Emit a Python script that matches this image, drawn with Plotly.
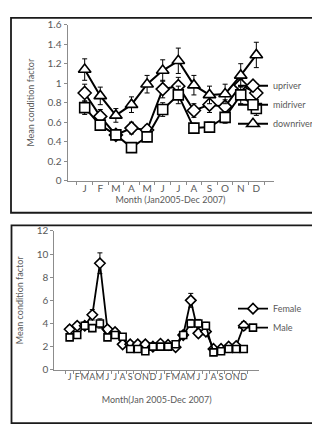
import plotly.graph_objects as go

# ---------- Top chart data ----------
months_top = ["Jan", "Feb", "Mar", "Apr", "May", "Jun", "Jul", "Aug", "Sep", "Oct", "Nov", "Dec"]
month_labels_top = ["J", "F", "M", "A", "M", "J", "J", "A", "S", "O", "N", "D"]

upriver = [0.90, 0.66, 0.47, 0.54, 0.52, 0.94, 0.97, 0.72, 0.78, 0.76, 0.98, 0.90]
upriver_err = [0.09, 0.07, 0.04, 0.06, 0.05, 0.09, 0.09, 0.07, 0.08, 0.07, 0.06, 0.09]
midriver = [0.75, 0.57, 0.47, 0.34, 0.45, 0.73, 0.88, 0.54, 0.55, 0.65, 0.88, 0.74]
midriver_err = [0.07, 0.05, 0.04, 0.03, 0.05, 0.07, 0.09, 0.05, 0.05, 0.06, 0.09, 0.07]
downriver = [1.14, 0.87, 0.67, 0.78, 0.99, 1.13, 1.23, 0.98, 0.88, 0.89, 1.08, 1.29]
downriver_err = [0.11, 0.09, 0.07, 0.08, 0.09, 0.11, 0.13, 0.10, 0.09, 0.10, 0.12, 0.13]

top_yticks = [0, 0.2, 0.4, 0.6, 0.8, 1.0, 1.2, 1.4, 1.6]
top_yticklabels = ["0", "0.2", "0.4", "0.6", "0.8", "1", "1.2", "1.4", "1.6"]

# ---------- Bottom chart data ----------
months_bottom = [m + " a" for m in months_top] + [m + " b" for m in months_top]
month_labels_bottom = month_labels_top + month_labels_top

female = [3.5, 3.8, 3.8, 4.75, 9.2, 3.5, 3.25, 2.2, 2.2, 2.2, 2.2, 2.0,
          2.25, 2.15, 1.95, 3.0, 6.0, 3.15, 3.3, 1.8, 1.8, 2.0, 2.05, 3.8]
female_err = [0.3, 0.3, 0.3, 0.45, 0.9, 0.3, 0.3, 0.2, 0.2, 0.2, 0.2, 0.2,
              0.2, 0.2, 0.2, 0.3, 0.6, 0.3, 0.3, 0.2, 0.2, 0.2, 0.2, 0.35]
male = [2.8, 3.0, 3.8, 3.6, 4.0, 2.8, 3.0, 2.85, 1.8, 1.8, 1.6, 2.0,
        2.0, 2.0, 2.2, 3.0, 4.0, 4.0, 3.8, 1.5, 1.6, 1.8, 1.8, 1.8]
male_err = [0.25, 0.25, 0.3, 0.3, 0.4, 0.25, 0.25, 0.25, 0.2, 0.2, 0.2, 0.2,
            0.2, 0.2, 0.2, 0.25, 0.35, 0.35, 0.3, 0.2, 0.2, 0.2, 0.2, 0.2]

bottom_yticks = [0, 2, 4, 6, 8, 10, 12]

W, H = 320, 424
FONT = "Lato, 'Open Sans', sans-serif"
GREY = "#595959"
AXIS = "#8c8c8c"


def px_x(x):
    return x / W


def px_y(y):
    return 1 - y / H


fig = go.Figure()


def add_series(x, y, err, name, symbol, size, xa, ya, legend, lw):
    fig.add_trace(go.Scatter(
        x=x, y=y, name=name, mode="lines+markers",
        xaxis=xa, yaxis=ya, legend=legend,
        line=dict(color="black", width=lw),
        marker=dict(symbol=symbol, size=size, color="white",
                    line=dict(color="black", width=1.6)),
        error_y=dict(type="data", array=err, visible=True,
                     color="black", thickness=1, width=2.5),
    ))


add_series(months_top, upriver, upriver_err, "upriver", "diamond", 10, "x", "y", "legend", 2)
add_series(months_top, midriver, midriver_err, "midriver", "square", 10, "x", "y", "legend", 2)
add_series(months_top, downriver, downriver_err, "downriver", "triangle-up", 11, "x", "y", "legend", 2)
add_series(months_bottom, female, female_err, "Female", "diamond", 8, "x2", "y2", "legend2", 1.8)
add_series(months_bottom, male, male_err, "Male", "square", 7, "x2", "y2", "legend2", 1.8)

tickfont = dict(family=FONT, size=10, color=GREY)
titlefont = dict(family=FONT, size=9, color=GREY)

fig.update_layout(
    width=W, height=H,
    margin=dict(l=0, r=0, t=0, b=0),
    paper_bgcolor="white", plot_bgcolor="white",
    font=dict(family=FONT, color=GREY),
    xaxis=dict(
        domain=[px_x(59.5), px_x(265.5)], anchor="y",
        type="category", categoryorder="array", categoryarray=months_top,
        tickmode="array", tickvals=months_top, ticktext=month_labels_top,
        tickson="boundaries", ticks="outside", ticklen=3, tickcolor=AXIS,
        tickangle=0, ticklabelstandoff=-2,
        showline=True, linecolor=AXIS, linewidth=1, showgrid=False,
        tickfont=tickfont,
        title=dict(text="Month (Jan2005-Dec 2007)", font=titlefont, standoff=1),
    ),
    yaxis=dict(
        domain=[px_y(171), px_y(10)], anchor="x",
        range=[0, 1.6], tickmode="array", tickvals=top_yticks, ticktext=top_yticklabels,
        ticks="outside", ticklen=3, tickcolor=AXIS,
        showline=True, linecolor=AXIS, linewidth=1, showgrid=False, zeroline=False,
        tickfont=tickfont,
        title=dict(text="Mean condition factor", font=titlefont, standoff=11),
    ),
    xaxis2=dict(
        domain=[px_x(46.4), px_x(251)], anchor="y2",
        type="category", categoryorder="array", categoryarray=months_bottom,
        tickmode="array", tickvals=months_bottom, ticktext=month_labels_bottom,
        tickson="boundaries", ticks="outside", ticklen=3, tickcolor=AXIS,
        tickangle=0, ticklabelstandoff=-2,
        showline=True, linecolor=AXIS, linewidth=1, showgrid=False,
        tickfont=dict(family=FONT, size=9, color=GREY),
        title=dict(text="Month(Jan 2005-Dec 2007)", font=titlefont, standoff=16),
    ),
    yaxis2=dict(
        domain=[px_y(366), px_y(222.7)], anchor="x2",
        range=[0, 12], tickmode="array", tickvals=bottom_yticks,
        ticks="outside", ticklen=3, tickcolor=AXIS,
        showline=True, linecolor=AXIS, linewidth=1, showgrid=False, zeroline=False,
        tickfont=tickfont,
        title=dict(text="Mean condition factor", font=titlefont, standoff=11),
    ),
    legend=dict(
        x=px_x(225), y=px_y(58), xanchor="left", yanchor="top",
        bgcolor="rgba(0,0,0,0)", font=dict(family=FONT, size=9, color=GREY),
        tracegroupgap=0,
    ),
    legend2=dict(
        x=px_x(225), y=px_y(288), xanchor="left", yanchor="top",
        bgcolor="rgba(0,0,0,0)", font=dict(family=FONT, size=9, color=GREY),
        tracegroupgap=0,
    ),
    shapes=[
        dict(type="rect", xref="paper", yref="paper",
             x0=px_x(3), x1=px_x(314), y0=px_y(204), y1=px_y(3),
             line=dict(color="#1a1a1a", width=1.8)),
        dict(type="rect", xref="paper", yref="paper",
             x0=px_x(3.5), x1=px_x(315), y0=px_y(421), y1=px_y(217),
             line=dict(color="#1a1a1a", width=1.8)),
    ],
)

fig.write_html("out.html")
